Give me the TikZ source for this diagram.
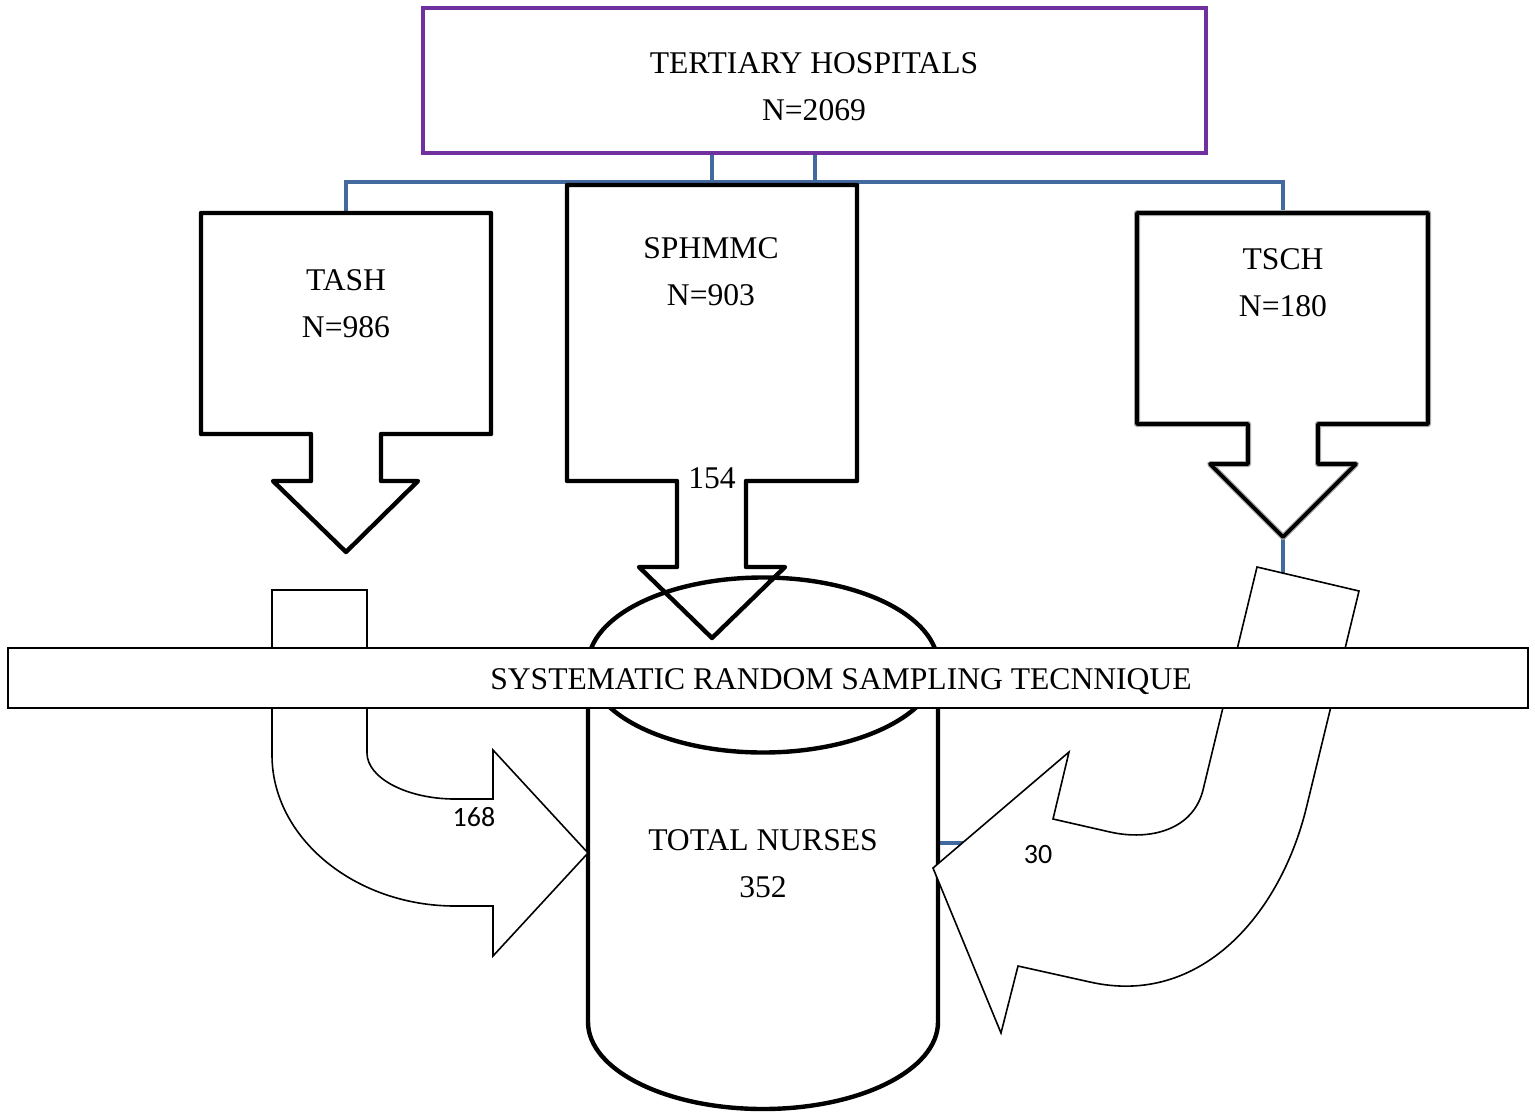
\documentclass[tikz,border=0pt]{standalone}
\usepackage{fontspec}
\setmainfont{Liberation Serif}
\newfontfamily\numfont{Carlito}
\usepackage{tikz}
\definecolor{hospurple}{RGB}{112,48,160}
\definecolor{linkblue}{RGB}{66,106,158}
\tikzstyle{callout} = [line width=2.2pt, line join=round]
\tikzstyle{link} = [line width=1.9pt, linkblue]
\tikzstyle{bent} = [line width=0.8pt, fill=white]
\tikzstyle{lbl} = [align=center, font=\fontsize{15.8}{23.5}\selectfont]
\tikzstyle{num} = [font=\numfont\fontsize{14}{16}\selectfont]

\begin{document}
\begin{tikzpicture}[x=0.5pt, y=-0.5pt]
	\useasboundingbox (0,0) rectangle (1535,1114);

	% connector points
	\coordinate (hosp-a) at (712,153);
	\coordinate (hosp-b) at (815,153);
	\coordinate (bus-l) at (346,182);
	\coordinate (bus-r) at (1283,182);
	\coordinate (tash-in) at (346,213);
	\coordinate (tsch-in) at (1283,213);
	\coordinate (tsch-tip) at (1283,537);
	\coordinate (tsch-tail) at (1283,600);
	\coordinate (nurse-e) at (938,843);
	\coordinate (turn-r) at (1000,843);

	% blue connectors
	\draw[link] (tash-in) -- (bus-l) -- (bus-r) -- (tsch-in);
	\draw[link] (hosp-a) -- (hosp-a |- bus-l);
	\draw[link] (hosp-b) -- (hosp-b |- bus-l);
	\draw[link] (tsch-tip) -- (tsch-tail);
	\draw[link] (nurse-e) -- (turn-r);

	% tertiary hospitals
	\draw[hospurple, line width=1.7pt] (423,8) rectangle (1206,153);

	% hospital arrows
	\draw[callout] (201,213) -- (491,213) -- (491,434) -- (381,434) -- (381,481) -- (418,481)
	-- (346,552) -- (273,481) -- (311,481) -- (311,434) -- (201,434) -- cycle;
	\draw[callout] (567,185) -- (857,185) -- (857,481) -- (746,481) -- (746,567) -- (785,567)
	-- (712,638) -- (639,567) -- (677,567) -- (677,481) -- (567,481) -- cycle;
	\draw[callout, gray!70, line width=3pt] (1137,213) -- (1428,213) -- (1428,424) -- (1318,424) -- (1318,464) -- (1356,464)
	-- (1283,537) -- (1210,464) -- (1248,464) -- (1248,424) -- (1137,424) -- cycle;
	\draw[callout, line width=1.8pt] (1137,213) -- (1428,213) -- (1428,424) -- (1318,424) -- (1318,464) -- (1356,464)
	-- (1283,537) -- (1210,464) -- (1248,464) -- (1248,424) -- (1137,424) -- cycle;

	% total nurses cylinder
	\draw[callout] (763,665) ellipse [x radius=175, y radius=87.5];
	\draw[callout] (588,665) -- (588,1022) arc[start angle=180, end angle=0, x radius=175, y radius=87] -- (938,665);

	% bent arrows
	\draw[bent] (272,590) -- (367,590) -- (367,753) .. controls (367,778) and (407,799) .. (455,799)
	-- (493,799) -- (493,750) -- (588,853) -- (493,956) -- (493,906) -- (455,906)
	.. controls (355,906) and (272,838) .. (272,755) -- cycle;
	\draw[bent] (1257,567) -- (1359,591) -- (1307,805) .. controls (1281,915) and (1200,1007) .. (1090,982)
	-- (1018,966) -- (1001,1033) -- (933,868) -- (1069,752) -- (1053,819) -- (1110,832)
	.. controls (1150,841) and (1193,830) .. (1203,790) -- cycle;

	% sampling banner
	\draw[line width=0.8pt, fill=white] (8,648) rectangle (1528,708);

	% labels
	\node[lbl] (tertiary) at (814,87) {TERTIARY HOSPITALS\\N=2069};
	\node[lbl] (tash) at (346,303.5) {TASH\\N=986};
	\node[lbl] (sphmmc) at (711,271.5) {SPHMMC\\N=903};
	\node[lbl] (tsch) at (1283,282.5) {TSCH\\N=180};
	\node[lbl] (nurses) at (763,863.5) {TOTAL NURSES\\352};
	\node[lbl] (n154) at (712,478.5) {154};
	\node[num] (n168) at (474,817.5) {168};
	\node[num] (n30) at (1038,854.5) {30};
	\node[lbl, anchor=base] (sampling) at (841,689) {SYSTEMATIC RANDOM SAMPLING TECNNIQUE};

\end{tikzpicture}
\end{document}
